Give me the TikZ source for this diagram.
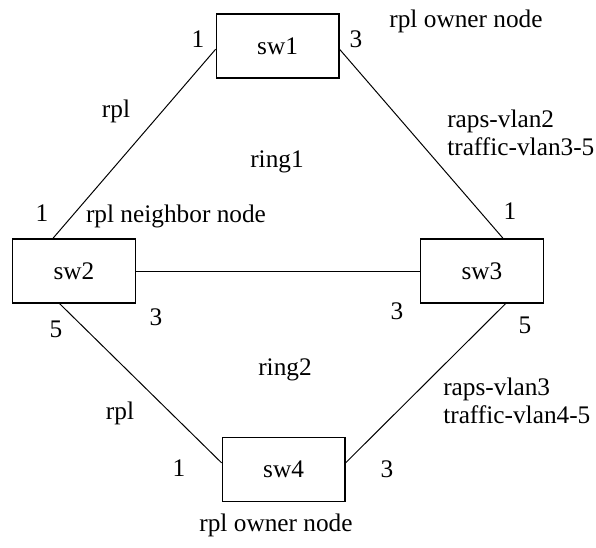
\documentclass[tikz,border=0pt]{standalone}
\usepackage{fontspec}
\setmainfont{Liberation Serif}
\usepackage{tikz}

\begin{document}
\begin{tikzpicture}[
		every node/.style={font=\fontsize{18}{20}\selectfont, inner sep=0pt},
		switch/.style={draw, line width=0.8pt, minimum width=3.07cm, minimum height=1.6cm},
		link/.style={line width=0.7pt}
	]
		\useasboundingbox (0,0) rectangle (14.9,13.675);
		% switches
		\node[switch] (sw1) at (6.94,12.525) {sw1};
		\node[switch] (sw2) at (1.85,6.9) {sw2};
		\node[switch] (sw3) at (12.05,6.9) {sw3};
		\node[switch] (sw4) at (7.09,1.94) {sw4};
		% links
		\draw[link] (sw1.183) -- (sw2.123);
		\draw[link] (sw1.357) -- (sw3.57);
		\draw[link] (sw2.east) -- (sw3.west);
		\draw[link] (sw2.246) -- (sw4.174);
		\draw[link] (sw3.306) -- (sw4.6);
		% ports
		\node (p11) at (4.95,12.7) {1};
		\node (p13) at (8.9,12.7) {3};
		\node (p21) at (1.05,8.35) {1};
		\node (p23) at (3.9,5.75) {3};
		\node (p25) at (1.4,5.45) {5};
		\node (p31) at (12.75,8.4) {1};
		\node (p33) at (9.925,5.9) {3};
		\node (p35) at (13.125,5.55) {5};
		\node (p41) at (4.475,1.975) {1};
		\node (p43) at (9.675,1.95) {3};
		% roles and rings
		\node (own1) at (11.65,13.15) {rpl owner node};
		\node (own4) at (6.9,0.55) {rpl owner node};
		\node (nbr2) at (4.4,8.275) {rpl neighbor node};
		\node (rpl1) at (2.9,10.9) {rpl};
		\node (rpl2) at (3.0,3.35) {rpl};
		\node (ring1) at (6.925,9.625) {ring1};
		\node (ring2) at (7.125,4.425) {ring2};
		\node[anchor=west, align=left] (vlan1) at (11.175,10.35) {raps-vlan2\\traffic-vlan3-5};
		\node[anchor=west, align=left] (vlan2) at (11.075,3.66) {raps-vlan3\\traffic-vlan4-5};
	\end{tikzpicture}
\end{document}
